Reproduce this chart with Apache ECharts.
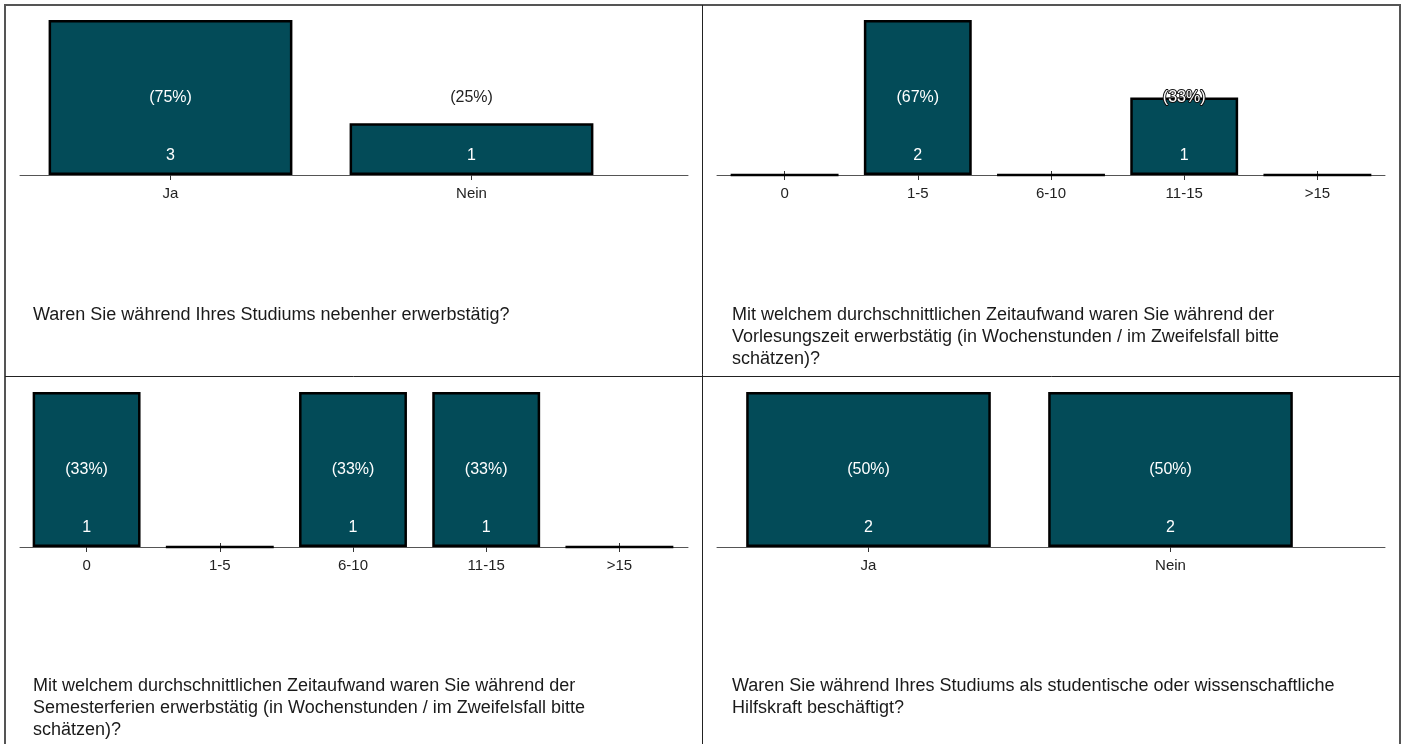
<!DOCTYPE html>
<html>
<head>
<meta charset="utf-8">
<script src="https://cdn.jsdelivr.net/npm/echarts@6/dist/echarts.min.js"></script>
<style>
html,body{margin:0;padding:0;background:#fff;}
#c{width:1406px;height:744px;}
</style>
</head>
<body>
<div id="c"></div>
<script>
// ---- data ----
const catsYesNo = ['Ja', 'Nein'];
const catsHours = ['0', '1-5', '6-10', '11-15', '>15'];
const countsQ1 = [3, 1];
const countsQ2 = [0, 2, 0, 1, 0];
const countsQ3 = [1, 0, 1, 1, 0];
const countsQ4 = [2, 2];
const questionQ1 = 'Waren Sie während Ihres Studiums nebenher erwerbstätig?';
const questionQ2 = 'Mit welchem durchschnittlichen Zeitaufwand waren Sie während der\nVorlesungszeit erwerbstätig (in Wochenstunden / im Zweifelsfall bitte\nschätzen)?';
const questionQ3 = 'Mit welchem durchschnittlichen Zeitaufwand waren Sie während der\nSemesterferien erwerbstätig (in Wochenstunden / im Zweifelsfall bitte\nschätzen)?';
const questionQ4 = 'Waren Sie während Ihres Studiums als studentische oder wissenschaftliche\nHilfskraft beschäftigt?';

// ---- layout ----
const FONT = '"Liberation Sans", Arial, sans-serif';
const BAR = '#034b58';
const panels = [
  {cats: catsYesNo, counts: countsQ1, q: questionQ1, grid: {left: 20, top: 20, width: 602, height: 155}, frame: {left: 20, width: 668}, title: {left: 33, top: 304}},
  {cats: catsHours, counts: countsQ2, q: questionQ2, grid: {left: 718, top: 20, width: 666, height: 155}, frame: {left: 717, width: 668}, title: {left: 732, top: 304}},
  {cats: catsHours, counts: countsQ3, q: questionQ3, grid: {left: 20, top: 392, width: 666, height: 155}, frame: {left: 20, width: 668}, title: {left: 33, top: 675}},
  {cats: catsYesNo, counts: countsQ4, q: questionQ4, grid: {left: 717.5, top: 392, width: 604, height: 155}, frame: {left: 717, width: 668}, title: {left: 732, top: 675}}
];

const grid = [], xAxis = [], yAxis = [], series = [], title = [];
panels.forEach((p, i) => {
  const gData = grid.length;
  grid.push(Object.assign({}, p.grid));
  const gFrame = grid.length;
  grid.push({left: p.frame.left, width: p.frame.width, top: p.grid.top, height: p.grid.height});
  const maxV = Math.max.apply(null, p.counts);
  const total = p.counts.reduce((a, b) => a + b, 0);

  const xData = xAxis.length;
  xAxis.push({type: 'category', gridIndex: gData, data: p.cats,
    axisLine: {show: false},
    axisTick: {show: true, alignWithLabel: true, length: 5, lineStyle: {color: '#333', width: 1}},
    axisLabel: {color: '#222', fontSize: 15, fontFamily: FONT, margin: 11}});
  xAxis.push({type: 'category', gridIndex: gData, data: p.cats, position: 'bottom',
    axisLine: {show: false},
    axisTick: {show: true, inside: true, alignWithLabel: true, length: 4, lineStyle: {color: '#333', width: 1}},
    axisLabel: {show: false}});
  xAxis.push({type: 'value', gridIndex: gFrame, min: 0, max: 1,
    axisLine: {show: true, lineStyle: {color: '#555', width: 1}},
    axisTick: {show: false}, axisLabel: {show: false}, splitLine: {show: false}});
  const yData = yAxis.length;
  yAxis.push({type: 'value', gridIndex: gData, min: 0, max: maxV, show: false, splitLine: {show: false}});
  yAxis.push({type: 'value', gridIndex: gFrame, min: 0, max: 1, show: false, splitLine: {show: false}});

  series.push({type: 'bar', xAxisIndex: xData, yAxisIndex: yData,
    barCategoryGap: '19%', z: 3,
    itemStyle: {color: BAR, borderColor: '#000', borderWidth: 2.5},
    label: {show: true, position: 'insideBottom', distance: 11, color: '#fff', fontSize: 16, fontFamily: FONT,
      formatter: (d) => d.value > 0 ? String(d.value) : ''},
    data: p.counts});

  const pct = [];
  p.counts.forEach((c, k) => {
    if (c <= 0) return;
    const r = c / maxV;
    const lbl = {formatter: '(' + Math.round(c / total * 100) + '%)'};
    if (r > 0.55) { lbl.color = '#fff'; }
    else if (r < 0.45) { lbl.color = '#222'; }
    else { lbl.color = '#fff'; lbl.textBorderColor = '#111'; lbl.textBorderWidth = 2; }
    pct.push({value: [k, maxV / 2], label: lbl});
  });
  series.push({type: 'scatter', xAxisIndex: xData, yAxisIndex: yData, symbolSize: 0, z: 5, silent: true,
    itemStyle: {opacity: 1},
    label: {show: true, position: 'inside', fontSize: 16, fontFamily: FONT},
    data: pct});

  title.push({text: p.q, left: p.title.left, top: p.title.top, padding: 0,
    textStyle: {fontSize: 18, fontWeight: 'normal', color: '#1a1a1a', fontFamily: FONT, lineHeight: 22}});
});

const chart = echarts.init(document.getElementById('c'), null, {renderer: 'canvas'});
chart.setOption({
  animation: false,
  backgroundColor: '#fff',
  title: title,
  grid: grid,
  xAxis: xAxis,
  yAxis: yAxis,
  series: series,
  graphic: [
    {type: 'rect', shape: {x: 5, y: 5, width: 1395, height: 745}, style: {fill: 'none', stroke: '#555', lineWidth: 2}, z: 10},
    {type: 'line', shape: {x1: 702.5, y1: 5, x2: 702.5, y2: 744}, style: {stroke: '#222', lineWidth: 1}, z: 10},
    {type: 'line', shape: {x1: 5, y1: 376.5, x2: 1400, y2: 376.5}, style: {stroke: '#222', lineWidth: 1}, z: 10}
  ]
});
</script>
</body>
</html>
